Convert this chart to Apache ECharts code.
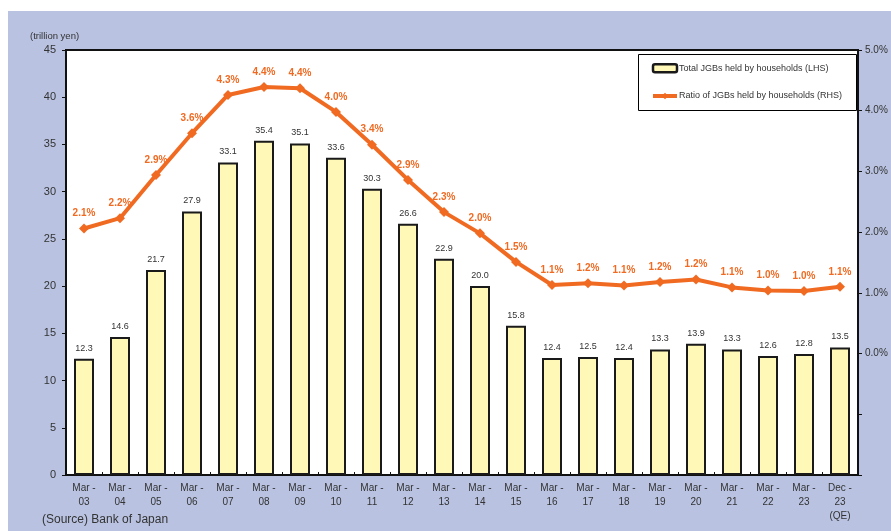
<!DOCTYPE html>
<html>
<head>
<meta charset="utf-8">
<script src="https://cdn.jsdelivr.net/npm/echarts@6/dist/echarts.min.js"></script>
<style>
  html, body { margin: 0; padding: 0; background: #ffffff; }
  #chart { width: 891px; height: 531px; }
</style>
</head>
<body>
<div id="chart"></div>
<script>
// Fiscal-year periods (end of March, last one is the December preliminary figure)
const periods = ['Mar -\n03', 'Mar -\n04', 'Mar -\n05', 'Mar -\n06', 'Mar -\n07', 'Mar -\n08',
  'Mar -\n09', 'Mar -\n10', 'Mar -\n11', 'Mar -\n12', 'Mar -\n13', 'Mar -\n14', 'Mar -\n15',
  'Mar -\n16', 'Mar -\n17', 'Mar -\n18', 'Mar -\n19', 'Mar -\n20', 'Mar -\n21', 'Mar -\n22',
  'Mar -\n23', 'Dec -\n23\n(QE)'];

// Total JGBs held by households, trillion yen (LHS)
const householdJGBs = [12.3, 14.6, 21.7, 27.9, 33.1, 35.4, 35.1, 33.6, 30.3, 26.6, 22.9,
  20.0, 15.8, 12.4, 12.5, 12.4, 13.3, 13.9, 13.3, 12.6, 12.8, 13.5];

// Share of JGBs held by households, percent (RHS)
const householdRatio = [2.06, 2.23, 2.94, 3.63, 4.26, 4.39, 4.37, 3.98, 3.44, 2.86, 2.33,
  1.98, 1.51, 1.13, 1.16, 1.12, 1.18, 1.22, 1.09, 1.04, 1.03, 1.10];

// Axis ticks
const leftTicks = { min: 0, max: 45, interval: 5 };
const rightTicks = { min: -2, max: 5, interval: 1 };

const ORANGE = '#F06A22';
const BAR_FILL = '#FFF8B6';
const TEXT = '#333333';
const FONT = '"Liberation Sans", Arial, sans-serif';

const chart = echarts.init(document.getElementById('chart'), null, { renderer: 'canvas' });

chart.setOption({
  animation: false,
  textStyle: { fontFamily: FONT },
  graphic: [
    {
      type: 'rect', z: -10, silent: true,
      shape: { x: 8, y: 11, width: 883, height: 520 },
      style: { fill: '#B9C3E1' }
    },
    {
      type: 'text', left: 30, top: 31, silent: true,
      style: { text: '(trillion yen)', font: '9.5px ' + FONT, fill: TEXT }
    },
    {
      type: 'text', left: 42, top: 514, silent: true,
      style: { text: '(Source) Bank of Japan', font: '12px ' + FONT, fill: TEXT }
    },
    {
      type: 'rect', z: 20, silent: true,
      shape: { x: 638.5, y: 54.5, width: 218, height: 56 },
      style: { fill: '#ffffff', stroke: '#000000', lineWidth: 1 }
    }
  ],
  legend: {
    z: 30,
    orient: 'vertical',
    left: 651,
    top: 63,
    itemGap: 18,
    itemWidth: 24,
    itemHeight: 8,
    padding: 0,
    textStyle: { fontSize: 9, color: TEXT, fontFamily: FONT, padding: [0, 0, 0, -3] },
    data: [
      { name: 'Total JGBs held by households (LHS)', itemStyle: { borderWidth: 2.5 } },
      { name: 'Ratio of JGBs held by households (RHS)', lineStyle: { width: 4 } }
    ]
  },
  grid: {
    left: 66, right: 33, top: 50, bottom: 56,
    show: true,
    backgroundColor: '#ffffff',
    borderColor: '#111111',
    borderWidth: 2
  },
  xAxis: {
    type: 'category',
    data: periods,
    axisLine: { lineStyle: { color: '#111111', width: 2 } },
    axisTick: { show: true, inside: true, length: 3, lineStyle: { color: '#111111' } },
    axisLabel: { color: TEXT, fontSize: 10, lineHeight: 14, margin: 6, interval: 0 }
  },
  yAxis: [
    {
      type: 'value',
      min: leftTicks.min, max: leftTicks.max, interval: leftTicks.interval,
      axisLine: { show: true, lineStyle: { color: '#111111', width: 2 } },
      axisTick: { show: true, length: 4, lineStyle: { color: '#111111' } },
      axisLabel: { color: TEXT, fontSize: 11, margin: 10 },
      splitLine: { show: false }
    },
    {
      type: 'value',
      position: 'right',
      min: rightTicks.min, max: rightTicks.max, interval: rightTicks.interval,
      axisLine: { show: true, lineStyle: { color: '#111111', width: 2 } },
      axisTick: { show: true, length: 4, lineStyle: { color: '#111111' } },
      axisLabel: {
        color: TEXT, fontSize: 10, margin: 7,
        formatter: v => (v < 0 ? '' : v.toFixed(1) + '%')
      },
      splitLine: { show: false }
    }
  ],
  series: [
    {
      name: 'Total JGBs held by households (LHS)',
      type: 'bar',
      yAxisIndex: 0,
      data: householdJGBs,
      barWidth: 20,
      itemStyle: { color: BAR_FILL, borderColor: '#1a1a1a', borderWidth: 2 },
      label: {
        show: true, position: 'top', distance: 6,
        color: TEXT, fontSize: 9,
        formatter: p => p.value.toFixed(1)
      }
    },
    {
      name: 'Ratio of JGBs held by households (RHS)',
      type: 'line',
      yAxisIndex: 1,
      data: householdRatio,
      symbol: 'diamond',
      symbolSize: 10,
      lineStyle: { color: ORANGE, width: 4 },
      itemStyle: { color: ORANGE },
      z: 5,
      label: {
        show: true, position: 'top', distance: 5,
        color: ORANGE, fontSize: 10, fontWeight: 'bold',
        formatter: p => p.value.toFixed(1) + '%'
      }
    }
  ]
});
</script>
</body>
</html>
